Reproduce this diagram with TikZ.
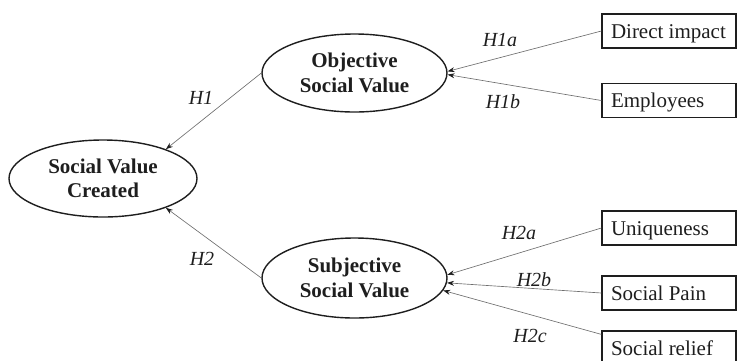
\documentclass[tikz,border=0pt]{standalone}
\usepackage{fontspec}
\setmainfont{Liberation Serif}
\usetikzlibrary{shapes.geometric,arrows.meta}
\definecolor{ink}{HTML}{1E1E1E}
\definecolor{wire}{HTML}{6E6E6E}
\newcommand{\itemtext}[1]{\makebox[116pt][l]{#1}}
\begin{document}
\begin{tikzpicture}[x=1pt,y=-1pt,
  construct/.style={ellipse,draw=ink,line width=1.4pt,inner sep=0pt,align=center,
    font=\fontsize{21}{24.5}\selectfont\bfseries,text=ink},
  itembox/.style={rectangle,draw=ink,line width=1.2pt,minimum width=134pt,minimum height=34pt,
    inner xsep=9pt,inner ysep=0pt,text height=14pt,text depth=0pt,
    font=\fontsize{21}{24}\selectfont,text=ink},
  hyp/.style={font=\fontsize{20}{22}\selectfont\itshape,text=ink,inner sep=0pt},
  link/.style={draw=wire,line width=0.65pt,-{Stealth[length=7pt,width=5pt,color=ink]}}]
\useasboundingbox (0,0) rectangle (737,360);
\clip (0,0) rectangle (737,360);
% constructs
\node[construct,minimum width=188pt,minimum height=77pt] (svc) at (103,178.5) {Social Value\\Created};
\node[construct,minimum width=185pt,minimum height=78pt] (obj) at (354.5,73) {Objective\\Social Value};
\node[construct,minimum width=185pt,minimum height=80pt] (sub) at (354.5,278) {Subjective\\Social Value};
% indicators
\node[itembox] (di) at (669,31) {\itemtext{Direct impact}};
\node[itembox] (em) at (669,100.5) {\itemtext{Employees}};
\node[itembox] (un) at (669,228) {\itemtext{Uniqueness}};
\node[itembox] (sp) at (669,293) {\itemtext{Social Pain}};
\node[itembox] (sr) at (669,348) {\itemtext{Social relief}};
% connectors
\draw[link] (obj.west) -- (svc.25);
\draw[link] (sub.west) -- (svc.-25);
\draw[link] (di.west) -- (obj.1.5);
\draw[link] (em.west) -- (obj.-1.5);
\draw[link] (un.west) -- (sub.2);
\draw[link] (sp.west) -- (sub.-3);
\draw[link] ([yshift=-4pt]sr.north west) -- (sub.-8);
% labels
\node[hyp] (lh1) at (201,98) {H1};
\node[hyp] (lh2) at (202,259) {H2};
\node[hyp] (lh1a) at (500,40) {H1a};
\node[hyp] (lh1b) at (503,102) {H1b};
\node[hyp] (lh2a) at (519,233) {H2a};
\node[hyp] (lh2b) at (534,280) {H2b};
\node[hyp] (lh2c) at (530,336) {H2c};
\end{tikzpicture}
\end{document}
